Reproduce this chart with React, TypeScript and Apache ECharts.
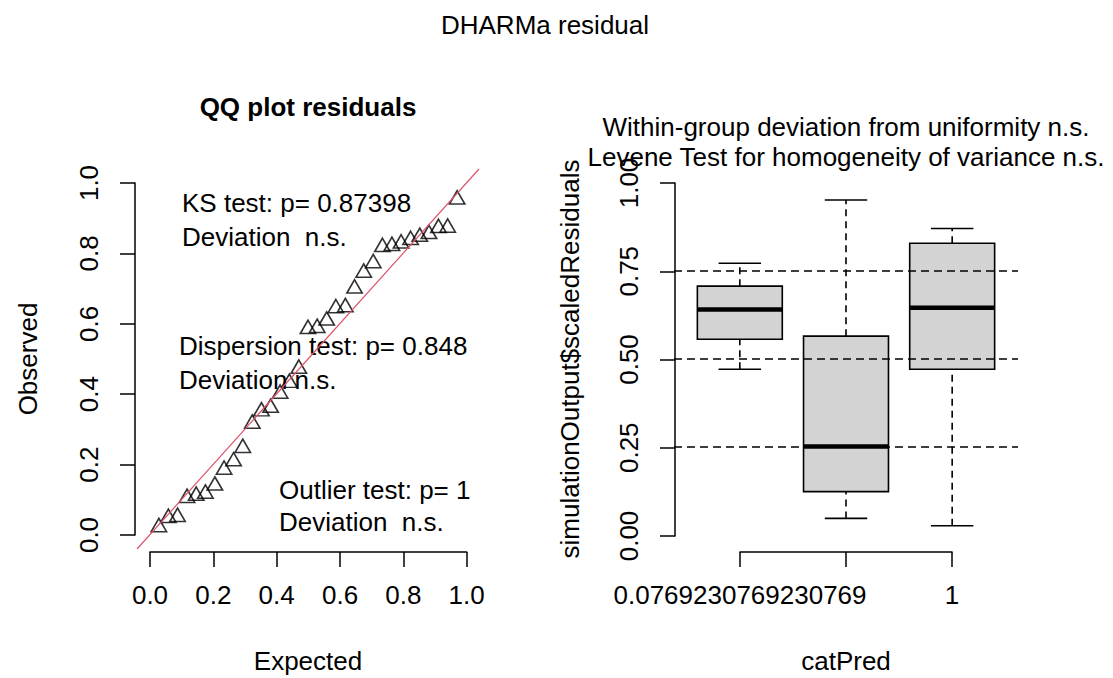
import React, { useEffect, useRef } from "react";
import * as echarts from "echarts";

// QQ panel: expected uniform quantiles vs. sorted scaled residuals
const expected = [
  0.029, 0.059, 0.088, 0.118, 0.147, 0.176, 0.206, 0.235, 0.265, 0.294, 0.324,
  0.353, 0.382, 0.412, 0.441, 0.471, 0.5, 0.529, 0.559, 0.588, 0.618, 0.647,
  0.676, 0.706, 0.735, 0.765, 0.794, 0.824, 0.853, 0.882, 0.912, 0.941, 0.971,
];
const observed = [
  0.022, 0.048, 0.051, 0.105, 0.111, 0.117, 0.14, 0.185, 0.209, 0.247, 0.316,
  0.351, 0.361, 0.401, 0.432, 0.472, 0.585, 0.588, 0.609, 0.644, 0.647, 0.7,
  0.745, 0.772, 0.818, 0.821, 0.828, 0.838, 0.847, 0.855, 0.872, 0.873, 0.953,
];
const qqLimits = [-0.04, 1.04];
const qqTickStep = 0.2;

// Box panel: residuals grouped by catPred
const groupNames = ["0.0769230769230769", "0.538461538461538", "1"];
const boxMin = [0.471, 0.047, 0.026];
const boxQ1 = [0.556, 0.123, 0.471];
const boxMedian = [0.641, 0.251, 0.646];
const boxQ3 = [0.707, 0.565, 0.829];
const boxMax = [0.772, 0.952, 0.871];
const boxLimits = [0.38, 3.62];
const boxTickStep = 0.25;
const refLevels = [0.25, 0.5, 0.75];

const FONT = "'Liberation Sans', Arial, sans-serif";
const FS = 26;
const BOX_HALF = 0.4;
const CAP_HALF = 0.2;

export default function App() {
  const ref = useRef<HTMLDivElement>(null);

  useEffect(() => {
    const chart = echarts.init(ref.current!, null, { renderer: "svg" });
    const textBase = { fontFamily: FONT, fontSize: FS, color: "#000" };
    const axisLine = { show: true, lineStyle: { color: "#000", width: 1.5 } };
    const axisTick = {
      show: true,
      inside: false,
      length: 15,
      lineStyle: { color: "#000", width: 1.5 },
    };
    const noSplit = { show: false };

    const txt = (
      text: string,
      x: number,
      y: number,
      align: string,
      extra: Record<string, unknown> = {},
      rotation = 0
    ) => ({
      type: "text",
      x,
      y,
      rotation,
      silent: true,
      style: {
        text,
        fill: "#000",
        fontFamily: FONT,
        fontSize: FS,
        align,
        verticalAlign: "middle",
        ...extra,
      },
    });

    chart.setOption({
      animation: false,
      backgroundColor: "#fff",
      grid: [
        { left: 137, top: 169, width: 342, height: 380 },
        { left: 150, top: 551, width: 316.7, height: 1 },
        { left: 135, top: 183, width: 1, height: 352 },
        { left: 674, top: 169, width: 344, height: 380 },
        { left: 740, top: 551, width: 212, height: 1 },
        { left: 675, top: 183, width: 1, height: 353 },
      ],
      xAxis: [
        { gridIndex: 0, type: "value", min: qqLimits[0], max: qqLimits[1], show: false },
        {
          gridIndex: 1,
          type: "value",
          min: 0,
          max: 1,
          interval: qqTickStep,
          axisLine,
          axisTick,
          splitLine: noSplit,
          axisLabel: {
            ...textBase,
            margin: 30,
            formatter: (v: number) => v.toFixed(1),
          },
        },
        { gridIndex: 2, type: "value", show: false },
        { gridIndex: 3, type: "value", min: boxLimits[0], max: boxLimits[1], show: false },
        {
          gridIndex: 4,
          type: "category",
          data: groupNames,
          boundaryGap: false,
          axisLine,
          axisTick: { ...axisTick, interval: 0 },
          splitLine: noSplit,
          axisLabel: {
            ...textBase,
            margin: 30,
            interval: (i: number) => i !== 1,
          },
        },
        { gridIndex: 5, type: "value", show: false },
      ],
      yAxis: [
        { gridIndex: 0, type: "value", min: qqLimits[0], max: qqLimits[1], show: false },
        { gridIndex: 1, type: "value", show: false },
        {
          gridIndex: 2,
          type: "value",
          min: 0,
          max: 1,
          interval: qqTickStep,
          axisLine,
          axisTick,
          splitLine: noSplit,
          axisLabel: {
            ...textBase,
            margin: 33,
            rotate: 90,
            formatter: (v: number) => v.toFixed(1),
          },
        },
        { gridIndex: 3, type: "value", min: qqLimits[0], max: qqLimits[1], show: false },
        { gridIndex: 4, type: "value", show: false },
        {
          gridIndex: 5,
          type: "value",
          min: 0,
          max: 1,
          interval: boxTickStep,
          axisLine,
          axisTick,
          splitLine: noSplit,
          axisLabel: {
            ...textBase,
            margin: 33,
            rotate: 90,
            formatter: (v: number) => v.toFixed(2),
          },
        },
      ],
      series: [
        {
          type: "scatter",
          xAxisIndex: 0,
          yAxisIndex: 0,
          data: expected.map((e, i) => [e, observed[i]]),
          symbol: "triangle",
          symbolSize: [15.4, 13.3],
          symbolOffset: [0, -2.2],
          itemStyle: { color: "rgba(0,0,0,0)", borderColor: "#000", borderWidth: 1.6 },
          z: 2,
          silent: true,
        },
        {
          type: "line",
          xAxisIndex: 0,
          yAxisIndex: 0,
          data: [
            [qqLimits[0], qqLimits[0]],
            [qqLimits[1], qqLimits[1]],
          ],
          showSymbol: false,
          lineStyle: { color: "#DF536B", width: 1.2 },
          z: 3,
          silent: true,
        },
        {
          type: "custom",
          xAxisIndex: 3,
          yAxisIndex: 3,
          clip: false,
          silent: true,
          data: boxMin.map((_, i) => [
            i + 1,
            boxMin[i],
            boxQ1[i],
            boxMedian[i],
            boxQ3[i],
            boxMax[i],
          ]),
          renderItem: (_params: unknown, api: any) => {
            const x = api.value(0);
            const lo = api.value(1);
            const q1 = api.value(2);
            const med = api.value(3);
            const q3 = api.value(4);
            const hi = api.value(5);
            const p = (xx: number, yy: number) => api.coord([xx, yy]);
            const seg = (a: number[], b: number[], style: object) => ({
              type: "line",
              shape: { x1: a[0], y1: a[1], x2: b[0], y2: b[1] },
              style,
            });
            const solid = { stroke: "#000", lineWidth: 1.6 };
            const dashed = { stroke: "#000", lineWidth: 1.6, lineDash: [7, 5] };
            const tl = p(x - BOX_HALF, q3);
            const br = p(x + BOX_HALF, q1);
            return {
              type: "group",
              children: [
                seg(p(x, q3), p(x, hi), dashed),
                seg(p(x, lo), p(x, q1), dashed),
                seg(p(x - CAP_HALF, hi), p(x + CAP_HALF, hi), solid),
                seg(p(x - CAP_HALF, lo), p(x + CAP_HALF, lo), solid),
                {
                  type: "rect",
                  shape: { x: tl[0], y: tl[1], width: br[0] - tl[0], height: br[1] - tl[1] },
                  style: { fill: "#D3D3D3", stroke: "#000", lineWidth: 1.6 },
                },
                seg(p(x - BOX_HALF, med), p(x + BOX_HALF, med), {
                  stroke: "#000",
                  lineWidth: 4.5,
                }),
              ],
            };
          },
          markLine: {
            silent: true,
            symbol: "none",
            label: { show: false },
            lineStyle: { color: "#000", type: [8, 5], width: 1.6 },
            data: refLevels.map((v) => ({ yAxis: v })),
          },
        },
      ],
      graphic: [
        txt("DHARMa residual", 545, 25, "center"),
        txt("QQ plot residuals", 308, 107, "center", { fontWeight: "bold" }),
        txt("Within-group deviation from uniformity n.s.", 846, 127, "center"),
        txt("Levene Test for homogeneity of variance n.s.", 846, 157, "center"),
        txt("KS test: p= 0.87398", 182, 203, "left"),
        txt("Deviation  n.s.", 182, 237, "left"),
        txt("Dispersion test: p= 0.848", 179, 346, "left"),
        txt("Deviation n.s.", 179, 380, "left"),
        txt("Outlier test: p= 1", 279, 490, "left"),
        txt("Deviation  n.s.", 279, 522, "left"),
        txt("Expected", 308, 661, "center"),
        txt("catPred", 846, 661, "center"),
        txt("Observed", 28, 359, "center", {}, Math.PI / 2),
        txt("simulationOutput$scaledResiduals", 570, 359, "center", {}, Math.PI / 2),
      ],
    });

    return () => chart.dispose();
  }, []);

  return (
    <div
      ref={ref}
      style={{ position: "fixed", left: 0, top: 0, width: 1113, height: 678, background: "#fff" }}
    />
  );
}
